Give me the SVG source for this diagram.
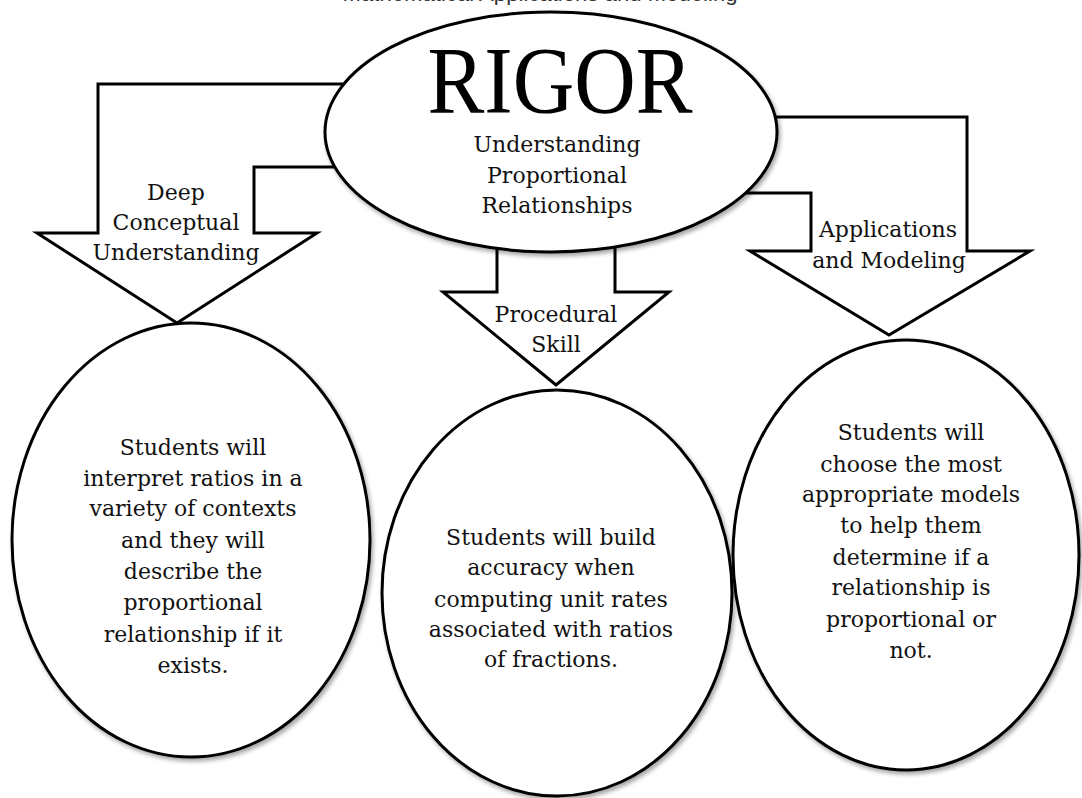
<svg xmlns="http://www.w3.org/2000/svg" width="1082" height="798" viewBox="0 0 1082 798">
  <style>
    .shape { fill: #ffffff; stroke: #000000; stroke-width: 3; stroke-linejoin: miter; }
    .txt { font-family: "DejaVu Serif", "Liberation Serif", serif; font-size: 22px; fill: #111111; text-anchor: middle; }
    .title { font-family: "Liberation Sans", Arial, sans-serif; font-size: 20px; fill: #333333; text-anchor: middle; }
    .big { font-family: "Liberation Serif", "Times New Roman", serif; font-size: 95px; fill: #000000; text-anchor: middle; }
  </style>
  <defs>
    <filter id="shadow" x="-10%" y="-10%" width="125%" height="125%">
      <feDropShadow dx="2" dy="3" stdDeviation="2" flood-color="#000000" flood-opacity="0.35"/>
    </filter>
  </defs>
  <rect width="1082" height="798" fill="#ffffff"/>

  <text class="title" x="540" y="1" textLength="395" lengthAdjust="spacingAndGlyphs">Mathematical Applications and Modeling</text>

  <g id="connectors">
    <g id="arrow-conceptual">
      <polygon class="shape" points="345,84 98,84 98,233 37,233 177,323 317,233 254,233 254,167 345,167"/>
      <text class="txt" x="176" y="200">Deep</text>
      <text class="txt" x="176" y="230">Conceptual</text>
      <text class="txt" x="176" y="260">Understanding</text>
    </g>
    <g id="arrow-procedural">
      <polygon class="shape" points="497,220 497,292 443,292 556,385 669,292 615,292 615,220"/>
      <text class="txt" x="556" y="322">Procedural</text>
      <text class="txt" x="556" y="352">Skill</text>
    </g>
    <g id="arrow-applications">
      <polygon class="shape" points="740,117 967,117 967,251 1030,251 889,335 750,251 811,251 811,193 740,193"/>
      <text class="txt" x="888" y="237">Applications</text>
      <text class="txt" x="889" y="268">and Modeling</text>
    </g>
  </g>

  <g id="node-rigor">
    <ellipse class="shape" cx="551" cy="132" rx="226" ry="120" filter="url(#shadow)"/>
    <text class="big" x="560" y="113" textLength="265" lengthAdjust="spacingAndGlyphs">RIGOR</text>
    <text class="txt" x="557" y="152">Understanding</text>
    <text class="txt" x="557" y="183">Proportional</text>
    <text class="txt" x="557" y="213">Relationships</text>
  </g>

  <g id="node-conceptual">
    <ellipse class="shape" cx="191" cy="540" rx="179" ry="217" filter="url(#shadow)"/>
    <text class="txt" x="193" y="455">Students will</text>
    <text class="txt" x="193" y="486">interpret ratios in a</text>
    <text class="txt" x="193" y="516">variety of contexts</text>
    <text class="txt" x="193" y="548">and they will</text>
    <text class="txt" x="193" y="579">describe the</text>
    <text class="txt" x="193" y="610">proportional</text>
    <text class="txt" x="193" y="642">relationship if it</text>
    <text class="txt" x="193" y="673">exists.</text>
  </g>

  <g id="node-procedural">
    <ellipse class="shape" cx="557" cy="593" rx="175" ry="203" filter="url(#shadow)"/>
    <text class="txt" x="551" y="545">Students will build</text>
    <text class="txt" x="551" y="575">accuracy when</text>
    <text class="txt" x="551" y="607">computing unit rates</text>
    <text class="txt" x="551" y="637">associated with ratios</text>
    <text class="txt" x="551" y="667">of fractions.</text>
  </g>

  <g id="node-applications">
    <ellipse class="shape" cx="906" cy="555" rx="173" ry="215" filter="url(#shadow)"/>
    <text class="txt" x="911" y="440">Students will</text>
    <text class="txt" x="911" y="472">choose the most</text>
    <text class="txt" x="911" y="502">appropriate models</text>
    <text class="txt" x="911" y="533">to help them</text>
    <text class="txt" x="911" y="565">determine if a</text>
    <text class="txt" x="911" y="595">relationship is</text>
    <text class="txt" x="911" y="627">proportional or</text>
    <text class="txt" x="911" y="658">not.</text>
  </g>
</svg>
